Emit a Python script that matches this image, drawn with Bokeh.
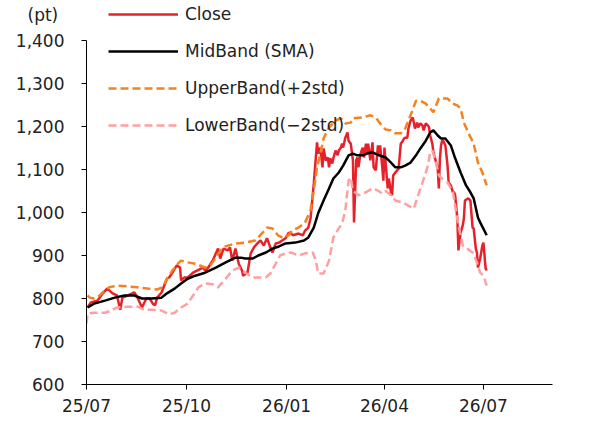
import pandas as pd
from bokeh.plotting import figure
from bokeh.models import Range1d, FixedTicker, NumeralTickFormatter, Legend, LegendItem, Label
from bokeh.embed import file_html
from bokeh.resources import INLINE

FONT = "DejaVu Sans"

close_dates = [
    "2025-07-02", "2025-07-05", "2025-07-11", "2025-07-16", "2025-07-20", "2025-07-25", "2025-07-29",
    "2025-08-01", "2025-08-03", "2025-08-08", "2025-08-14", "2025-08-17", "2025-08-21", "2025-08-25",
    "2025-08-28", "2025-08-31", "2025-09-02", "2025-09-04", "2025-09-08", "2025-09-13", "2025-09-15",
    "2025-09-18", "2025-09-22", "2025-09-25", "2025-09-26", "2025-09-29", "2025-10-02", "2025-10-07",
    "2025-10-16", "2025-10-18", "2025-10-21", "2025-10-25", "2025-10-28", "2025-10-30", "2025-11-01",
    "2025-11-04", "2025-11-08", "2025-11-10", "2025-11-12", "2025-11-15", "2025-11-18", "2025-11-21",
    "2025-11-22", "2025-11-26", "2025-11-29", "2025-12-02", "2025-12-05", "2025-12-08", "2025-12-11",
    "2025-12-14", "2025-12-17", "2025-12-19", "2025-12-22", "2025-12-25", "2025-12-28", "2025-12-31",
    "2026-01-03", "2026-01-05", "2026-01-07", "2026-01-12", "2026-01-16", "2026-01-18", "2026-01-21",
    "2026-01-23", "2026-01-26", "2026-01-29", "2026-01-30", "2026-02-01", "2026-02-03", "2026-02-04",
    "2026-02-06", "2026-02-08", "2026-02-09", "2026-02-10", "2026-02-12", "2026-02-13", "2026-02-15",
    "2026-02-17", "2026-02-18", "2026-02-20", "2026-02-21", "2026-02-22", "2026-02-24", "2026-02-26",
    "2026-02-27", "2026-03-01", "2026-03-03", "2026-03-04", "2026-03-06", "2026-03-07", "2026-03-08",
    "2026-03-10", "2026-03-12", "2026-03-13", "2026-03-15", "2026-03-16", "2026-03-17", "2026-03-19",
    "2026-03-21", "2026-03-22", "2026-03-24", "2026-03-26", "2026-03-27", "2026-03-28", "2026-03-30",
    "2026-03-31", "2026-04-01", "2026-04-03", "2026-04-04", "2026-04-05", "2026-04-07", "2026-04-08",
    "2026-04-09", "2026-04-11", "2026-04-14", "2026-04-16", "2026-04-18", "2026-04-19", "2026-04-20",
    "2026-04-22", "2026-04-23", "2026-04-25", "2026-04-27", "2026-04-28", "2026-04-29", "2026-05-01",
    "2026-05-02", "2026-05-04", "2026-05-06", "2026-05-07", "2026-05-09", "2026-05-11", "2026-05-12",
    "2026-05-13", "2026-05-15", "2026-05-16", "2026-05-18", "2026-05-20", "2026-05-21", "2026-05-22",
    "2026-05-23", "2026-05-24", "2026-05-25", "2026-05-27", "2026-05-29", "2026-05-30", "2026-06-01",
    "2026-06-03", "2026-06-04", "2026-06-05", "2026-06-07", "2026-06-08", "2026-06-10", "2026-06-12",
    "2026-06-13", "2026-06-14", "2026-06-17", "2026-06-19", "2026-06-21", "2026-06-22", "2026-06-24",
    "2026-06-25", "2026-06-26", "2026-06-28", "2026-06-30", "2026-07-01", "2026-07-03", "2026-07-04",
]
close_values = [
    779, 791, 795, 812, 823, 812, 807,
    774, 802, 807, 814, 802, 779, 800,
    800, 788, 784, 802, 814, 846, 849,
    860, 877, 872, 842, 849, 849, 860,
    872, 865, 872, 888, 905, 916, 893,
    916, 912, 919, 888, 916, 881, 865,
    853, 860, 905, 919, 928, 935, 923,
    940, 919, 907, 928, 930, 935, 940,
    953, 951, 947, 951, 947, 958, 965,
    986, 1067, 1163, 1137, 1151, 1105, 1149,
    1121, 1128, 1105, 1126, 1114, 1126, 1144,
    1133, 1144, 1151, 1160, 1151, 1174, 1186,
    1167, 1160, 1121, 977, 1121, 1128, 1105,
    1137, 1151, 1128, 1160, 1137, 1160, 1121,
    1163, 1105, 1098, 1156, 1137, 1156, 1105,
    1074, 1151, 1086, 1056, 1079, 1047, 1040,
    1086, 1093, 1102, 1160, 1167, 1172, 1174,
    1174, 1195, 1214, 1221, 1209, 1195, 1209,
    1198, 1207, 1202, 1191, 1207, 1202, 1198,
    1179, 1160, 1140, 1121, 1102, 1056, 1126,
    1156, 1167, 1167, 1156, 1109, 1070, 1063,
    1047, 1047, 1040, 986, 912, 953, 970,
    986, 1028, 1033, 1028, 965, 963, 916,
    907, 872, 893, 923, 930, 870, 865,
]

mid_dates = [
    "2025-07-02", "2025-07-08", "2025-07-18", "2025-07-27", "2025-08-05", "2025-08-14", "2025-08-21",
    "2025-08-30", "2025-09-08", "2025-09-13", "2025-09-20", "2025-09-26", "2025-10-02", "2025-10-09",
    "2025-10-18", "2025-10-28", "2025-11-06", "2025-11-15", "2025-11-20", "2025-11-24", "2025-12-01",
    "2025-12-06", "2025-12-13", "2025-12-19", "2025-12-25", "2025-12-31", "2026-01-09", "2026-01-17",
    "2026-01-21", "2026-01-26", "2026-01-30", "2026-02-04", "2026-02-09", "2026-02-13", "2026-02-18",
    "2026-02-22", "2026-02-27", "2026-03-03", "2026-03-07", "2026-03-12", "2026-03-16", "2026-03-21",
    "2026-03-27", "2026-04-02", "2026-04-07", "2026-04-11", "2026-04-16", "2026-04-20", "2026-04-25",
    "2026-04-30", "2026-05-04", "2026-05-09", "2026-05-13", "2026-05-16", "2026-05-20", "2026-05-23",
    "2026-05-27", "2026-06-01", "2026-06-05", "2026-06-10", "2026-06-15", "2026-06-19", "2026-06-22",
    "2026-06-26", "2026-06-28", "2026-07-04",
]
mid_values = [
    779, 788, 795, 802, 807, 807, 800,
    800, 802, 812, 823, 835, 846, 853,
    860, 872, 884, 895, 895, 893, 893,
    900, 907, 916, 921, 928, 930, 935,
    942, 965, 998, 1028, 1056, 1079, 1093,
    1109, 1133, 1137, 1133, 1133, 1137, 1140,
    1133, 1128, 1116, 1105, 1105, 1109, 1116,
    1133, 1149, 1167, 1186, 1191, 1179, 1172,
    1172, 1156, 1126, 1093, 1063, 1047, 1033,
    988, 977, 947,
]

upper_dates = [
    "2025-07-02", "2025-07-04", "2025-07-08", "2025-07-13", "2025-07-18", "2025-07-22", "2025-07-29",
    "2025-08-08", "2025-08-17", "2025-08-26", "2025-09-04", "2025-09-09", "2025-09-13", "2025-09-18",
    "2025-09-23", "2025-09-26", "2025-10-02", "2025-10-09", "2025-10-18", "2025-10-23", "2025-10-28",
    "2025-11-03", "2025-11-08", "2025-11-15", "2025-11-24", "2025-12-03", "2025-12-10", "2025-12-14",
    "2025-12-19", "2025-12-24", "2025-12-28", "2026-01-03", "2026-01-06", "2026-01-12", "2026-01-18",
    "2026-01-23", "2026-01-26", "2026-01-29", "2026-02-01", "2026-02-04", "2026-02-09", "2026-02-15",
    "2026-02-20", "2026-02-24", "2026-03-01", "2026-03-03", "2026-03-12", "2026-03-19", "2026-03-24",
    "2026-03-28", "2026-04-02", "2026-04-07", "2026-04-11", "2026-04-16", "2026-04-20", "2026-04-25",
    "2026-04-30", "2026-05-04", "2026-05-09", "2026-05-13", "2026-05-16", "2026-05-21", "2026-05-24",
    "2026-05-29", "2026-06-03", "2026-06-07", "2026-06-10", "2026-06-13", "2026-06-17", "2026-06-22",
    "2026-06-26", "2026-06-30", "2026-07-04",
]
upper_values = [
    807, 802, 800, 807, 819, 826, 830,
    828, 826, 823, 821, 826, 846, 865,
    881, 888, 884, 881, 872, 877, 895,
    919, 923, 928, 930, 935, 953, 965,
    963, 947, 942, 947, 958, 965, 977,
    1005, 1051, 1105, 1137, 1172, 1198, 1214,
    1219, 1207, 1209, 1219, 1221, 1226, 1221,
    1207, 1193, 1191, 1184, 1184, 1195, 1226,
    1260, 1260, 1253, 1242, 1233, 1265, 1265,
    1265, 1253, 1249, 1242, 1209, 1186, 1160,
    1116, 1093, 1063,
]

lower_dates = [
    "2025-07-01", "2025-07-02", "2025-07-08", "2025-07-18", "2025-07-24", "2025-07-29", "2025-08-08",
    "2025-08-17", "2025-08-23", "2025-08-30", "2025-09-08", "2025-09-15", "2025-09-20", "2025-09-26",
    "2025-10-02", "2025-10-12", "2025-10-18", "2025-10-25", "2025-10-30", "2025-11-06", "2025-11-12",
    "2025-11-18", "2025-11-24", "2025-12-01", "2025-12-06", "2025-12-13", "2025-12-17", "2025-12-22",
    "2025-12-26", "2025-12-31", "2026-01-05", "2026-01-12", "2026-01-18", "2026-01-25", "2026-01-28",
    "2026-01-30", "2026-02-04", "2026-02-09", "2026-02-13", "2026-02-18", "2026-02-21", "2026-02-24",
    "2026-02-27", "2026-03-01", "2026-03-03", "2026-03-08", "2026-03-15", "2026-03-21", "2026-03-26",
    "2026-03-30", "2026-04-02", "2026-04-07", "2026-04-11", "2026-04-18", "2026-04-23", "2026-04-28",
    "2026-05-01", "2026-05-06", "2026-05-11", "2026-05-13", "2026-05-15", "2026-05-18", "2026-05-21",
    "2026-05-24", "2026-05-29", "2026-06-03", "2026-06-05", "2026-06-08", "2026-06-12", "2026-06-16",
    "2026-06-21", "2026-06-25", "2026-06-28", "2026-07-01", "2026-07-04",
]
lower_values = [
    742, 765, 767, 767, 772, 779, 781,
    781, 774, 774, 772, 763, 767, 779,
    788, 826, 835, 833, 826, 846, 865,
    872, 860, 849, 849, 849, 858, 881,
    900, 905, 907, 900, 905, 907, 888,
    858, 858, 888, 942, 963, 974, 1005,
    1074, 1081, 1051, 1040, 1047, 1056, 1051,
    1044, 1050, 1040, 1028, 1023, 1016, 1009,
    1033, 1070, 1109, 1140, 1144, 1121, 1086,
    1079, 1070, 1047, 1016, 970, 923, 916,
    907, 884, 860, 853, 830,
]

y_ticks = [600, 700, 800, 900, 1000, 1100, 1200, 1300, 1400]
x_tick_dates = ["2025-07-01", "2025-10-01", "2026-01-01", "2026-04-01", "2026-07-01"]
x_tick_labels = ["25/07", "25/10", "26/01", "26/04", "26/07"]

series_names = ["Close", "MidBand (SMA)", "UpperBand(+2std)", "LowerBand(\u22122std)"]
unit_label = "(pt)"

for a, b in [(close_dates, close_values), (mid_dates, mid_values),
             (upper_dates, upper_values), (lower_dates, lower_values)]:
    assert len(a) == len(b), (len(a), len(b))

to_dt = pd.to_datetime

# layout geometry (px): frame from x=86 to x=552, y=0 to y=384
LEFT, RIGHT_BORDER, BOTTOM_BORDER = 86, 40, 39
PX_PER_DAY = 1.0875
frame_w = 592 - LEFT - RIGHT_BORDER
x_start = to_dt(x_tick_dates[0])
x_end = x_start + pd.Timedelta(days=frame_w / PX_PER_DAY)

p = figure(width=592, height=423, x_axis_type="datetime",
           output_backend="svg", toolbar_location=None,
           x_range=Range1d(x_start, x_end), y_range=Range1d(600, 1493),
           min_border_left=LEFT, min_border_right=RIGHT_BORDER, min_border_top=0,
           min_border_bottom=BOTTOM_BORDER)
p.outline_line_color = None
p.xgrid.visible = False
p.ygrid.visible = False
p.background_fill_color = "white"
p.border_fill_color = "white"

r_close = p.line(to_dt(close_dates), close_values, line_color="#E8202A", line_width=2.5)
r_mid = p.line(to_dt(mid_dates), mid_values, line_color="#000000", line_width=2.5)
r_up = p.line(to_dt(upper_dates), upper_values, line_color="#F5811F", line_width=2.5, line_dash="8 4")
r_lo = p.line(to_dt(lower_dates), lower_values, line_color="#FFA0A0", line_width=2.5, line_dash="8 4")

tick_ms = [float(to_dt(d).value // 10**6) for d in x_tick_dates]
p.xaxis.ticker = FixedTicker(ticks=tick_ms)
p.xaxis.major_label_overrides = {t: l for t, l in zip(tick_ms, x_tick_labels)}
p.yaxis.ticker = FixedTicker(ticks=y_ticks)
p.yaxis.formatter = NumeralTickFormatter(format="0,0")
p.yaxis.bounds = (600, 1400)

for ax in (p.xaxis[0], p.yaxis[0]):
    ax.axis_line_color = "#000000"
    ax.axis_line_width = 1
    ax.major_tick_line_color = "#000000"
    ax.major_tick_in = 0
    ax.major_tick_out = 5
    ax.minor_tick_line_color = None
    ax.major_label_text_font = FONT
    ax.major_label_text_font_size = "17px"
    ax.major_label_text_color = "#222222"
p.xaxis.major_label_standoff = 6
p.yaxis.major_label_standoff = 17

legend = Legend(items=[
    LegendItem(label=series_names[0], renderers=[r_close]),
    LegendItem(label=series_names[1], renderers=[r_mid]),
    LegendItem(label=series_names[2], renderers=[r_up]),
    LegendItem(label=series_names[3], renderers=[r_lo]),
], location=(22, 249))
legend.border_line_color = None
legend.background_fill_alpha = 0
legend.padding = 0
legend.margin = 0
legend.glyph_width = 70
legend.glyph_height = 20
legend.label_height = 20
legend.spacing = 17
legend.label_standoff = 7
legend.label_text_font = FONT
legend.label_text_font_size = "17px"
legend.label_text_color = "#222222"
p.add_layout(legend)

p.add_layout(Label(x=27, y=14, x_units="canvas", y_units="canvas", text=unit_label,
                   level="overlay",
                   text_font=FONT, text_font_size="17px", text_color="#222222",
                   text_align="left", text_baseline="middle"), "right")

open("out.html", "w").write(file_html(p, INLINE))
